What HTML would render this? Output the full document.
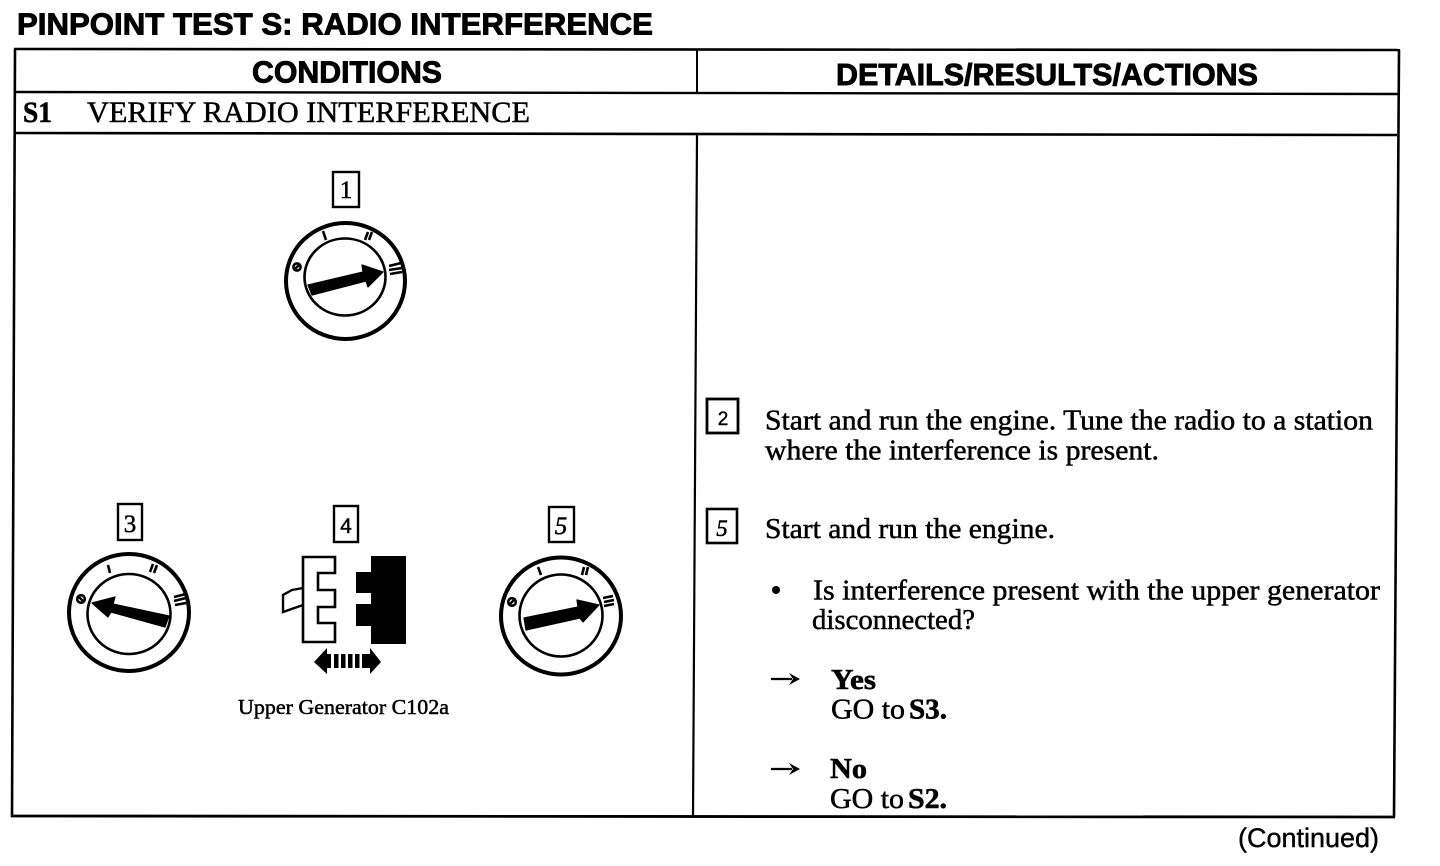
<!DOCTYPE html>
<html>
<head>
<meta charset="utf-8">
<style>
html,body{margin:0;padding:0;background:#fff;width:1440px;height:866px;overflow:hidden}
svg{display:block}
.h{font-family:"Liberation Sans",sans-serif;font-weight:bold;fill:#000;stroke:#000;stroke-width:.9}
.s{font-family:"Liberation Serif",serif;fill:#000;stroke:#000;stroke-width:.5}
.b{font-family:"Liberation Serif",serif;font-weight:bold;fill:#000;stroke:#000;stroke-width:.6}
.a{font-family:"Liberation Sans",sans-serif;fill:#000;stroke:#000;stroke-width:.4}
.l{stroke:#000;fill:none}
.f{stroke:#000;stroke-width:1.2;stroke-linejoin:round}
</style>
</head>
<body>
<svg width="1440" height="866" viewBox="0 0 1440 866" xmlns="http://www.w3.org/2000/svg">
<rect width="1440" height="866" fill="#fff"/>

<text class="h" x="17" y="34.5" font-size="31" textLength="636" lengthAdjust="spacingAndGlyphs">PINPOINT TEST S:  RADIO INTERFERENCE</text>

<!-- frame -->
<g class="l">
<path d="M14 49 L1400 50" stroke-width="2.6"/>
<path d="M15 49 L12 817" stroke-width="2.6"/>
<path d="M1399 50 L1394 817" stroke-width="2.6"/>
<path d="M11 816 L1395 817" stroke-width="2.8"/>
<path d="M15 92 L1398 94" stroke-width="2.4"/>
<path d="M14 133 L1397 135" stroke-width="2.6"/>
<path d="M697 50 L697 93" stroke-width="2"/>
<path d="M697 135 L693 817" stroke-width="2.2"/>
</g>

<text class="h" x="252" y="82.5" font-size="31" textLength="190" lengthAdjust="spacingAndGlyphs">CONDITIONS</text>
<text class="h" x="836" y="85" font-size="31" textLength="422" lengthAdjust="spacingAndGlyphs">DETAILS/RESULTS/ACTIONS</text>
<text class="b" x="23" y="122" font-size="30" textLength="29" lengthAdjust="spacingAndGlyphs">S1</text>
<text class="s" x="87" y="122" font-size="30" textLength="443" lengthAdjust="spacingAndGlyphs">VERIFY RADIO INTERFERENCE</text>

<!-- number boxes -->
<g class="l" stroke-width="2.4">
<rect x="333" y="172" width="26" height="35"/>
<rect x="118" y="504" width="24" height="36"/>
<rect x="334" y="506" width="24" height="36"/>
<rect x="549" y="507" width="25" height="35"/>
<rect x="707" y="399" width="31" height="34" stroke-width="2.8"/>
<rect x="707" y="509" width="30" height="34" stroke-width="2.6"/>
</g>
<g class="s" font-size="25" text-anchor="middle">
<text x="346" y="198">1</text>
<text x="130" y="532">3</text>
<text x="346" y="533" class="a" font-size="21">4</text>
<text x="561" y="534" font-style="italic">5</text>
<text x="723" y="425" class="a" font-size="19">2</text>
<text x="722" y="536" font-style="italic" font-size="23">5</text>
</g>

<!-- dial 1 -->
<ellipse class="l" cx="345.5" cy="281" rx="59.5" ry="58" stroke-width="4"/>
<ellipse class="l" cx="345" cy="277" rx="40.5" ry="38.5" stroke-width="2.6"/>
<polygon class="f" points="308,285 363,272 362,265 383,272 368,287 366,281 312,295"/>
<g class="l" stroke-width="2.6">
<circle cx="297" cy="267" r="3.6"/><path d="M294 270 L300 264"/>
<path d="M323 231 L326 240"/>
<path d="M365 240 L368 232 M369 240 L372 232"/>
<path d="M389 266 L401 263 M389 270 L402 268 M390 274 L402 272"/>
</g>

<!-- dial 3 -->
<ellipse class="l" cx="129" cy="612.5" rx="60" ry="58.5" stroke-width="4"/>
<ellipse class="l" cx="129" cy="614" rx="41.5" ry="40" stroke-width="2.6"/>
<polygon class="f" points="92,603 115,597 113,604 169,616 165,627 111,612 108,617"/>
<g class="l" stroke-width="2.6">
<circle cx="81" cy="599" r="3.8"/><path d="M78 596 L84 602"/>
<path d="M108 565 L110 573"/>
<path d="M150 572 L153 564 M154 573 L157 565"/>
<path d="M174 597 L186 594 M174 601 L186 598 M175 605 L186 603"/>
</g>

<!-- dial 5 -->
<ellipse class="l" cx="561" cy="616" rx="60" ry="58.5" stroke-width="4"/>
<ellipse class="l" cx="561" cy="615.5" rx="41.5" ry="41" stroke-width="2.6"/>
<polygon class="f" points="524,618 578,607 577,600 599,605 583,622 580,618 526,630"/>
<g class="l" stroke-width="2.6">
<circle cx="512" cy="602" r="3.8"/><path d="M509 605 L515 599"/>
<path d="M538 567 L541 575"/>
<path d="M582 575 L584 567 M586 575 L588 567"/>
<path d="M603 598 L613 596 M604 602 L614 600 M604 606 L614 604"/>
</g>

<!-- connector -->
<path class="l" stroke-width="2.6" d="M303 557 H335 V573 H318 V590 H335 V607 H318 V623 H335 V642 H303 Z"/>
<path class="l" stroke-width="2.4" d="M303 588 L292 590 L283 595 L283 612 L303 605"/>
<polygon points="371,556 406,556 406,644 371,644 371,626 356,626 356,604 371,604 371,593 356,593 356,572 371,572"/>
<polygon points="314,662 327,648 327,674"/>
<polygon points="381,662 370,648 370,674"/>
<g>
<rect x="327" y="654" width="4" height="14"/>
<rect x="334" y="654" width="4.5" height="14"/>
<rect x="341" y="654" width="4.5" height="14"/>
<rect x="348" y="654" width="4.5" height="14"/>
<rect x="355" y="654" width="4.5" height="14"/>
<rect x="362" y="654" width="8" height="14"/>
</g>
<text class="s" x="238" y="714" font-size="21" textLength="211" lengthAdjust="spacingAndGlyphs">Upper Generator C102a</text>

<!-- right text -->
<g class="s" font-size="29">
<text x="765" y="429.5" textLength="608" lengthAdjust="spacingAndGlyphs">Start and run the engine. Tune the radio to a station</text>
<text x="765" y="459.5" textLength="394" lengthAdjust="spacingAndGlyphs">where the interference is present.</text>
<text x="765" y="538" textLength="290" lengthAdjust="spacingAndGlyphs">Start and run the engine.</text>
<text x="813" y="599.5" textLength="567" lengthAdjust="spacingAndGlyphs">Is interference present with the upper generator</text>
<text x="812" y="629" textLength="163" lengthAdjust="spacingAndGlyphs">disconnected?</text>
<text x="831" y="718.5" textLength="74" lengthAdjust="spacingAndGlyphs">GO to</text>
<text x="830" y="808" textLength="74" lengthAdjust="spacingAndGlyphs">GO to</text>
</g>
<g class="b" font-size="29">
<text x="831" y="689" textLength="45" lengthAdjust="spacingAndGlyphs">Yes</text>
<text x="909" y="718.5" textLength="38" lengthAdjust="spacingAndGlyphs">S3.</text>
<text x="830" y="778" textLength="37" lengthAdjust="spacingAndGlyphs">No</text>
<text x="908" y="808" textLength="39" lengthAdjust="spacingAndGlyphs">S2.</text>
</g>
<circle cx="776" cy="590" r="4"/>
<path class="l" stroke-width="2.2" d="M771 679 H792"/>
<polygon points="789,673 800,679 789,685 793,679"/>
<path class="l" stroke-width="2.2" d="M771 769 H792"/>
<polygon points="789,763 800,769 789,775 793,769"/>

<text class="a" x="1238" y="847" font-size="27" textLength="141" lengthAdjust="spacingAndGlyphs">(Continued)</text>
</svg>
</body>
</html>
